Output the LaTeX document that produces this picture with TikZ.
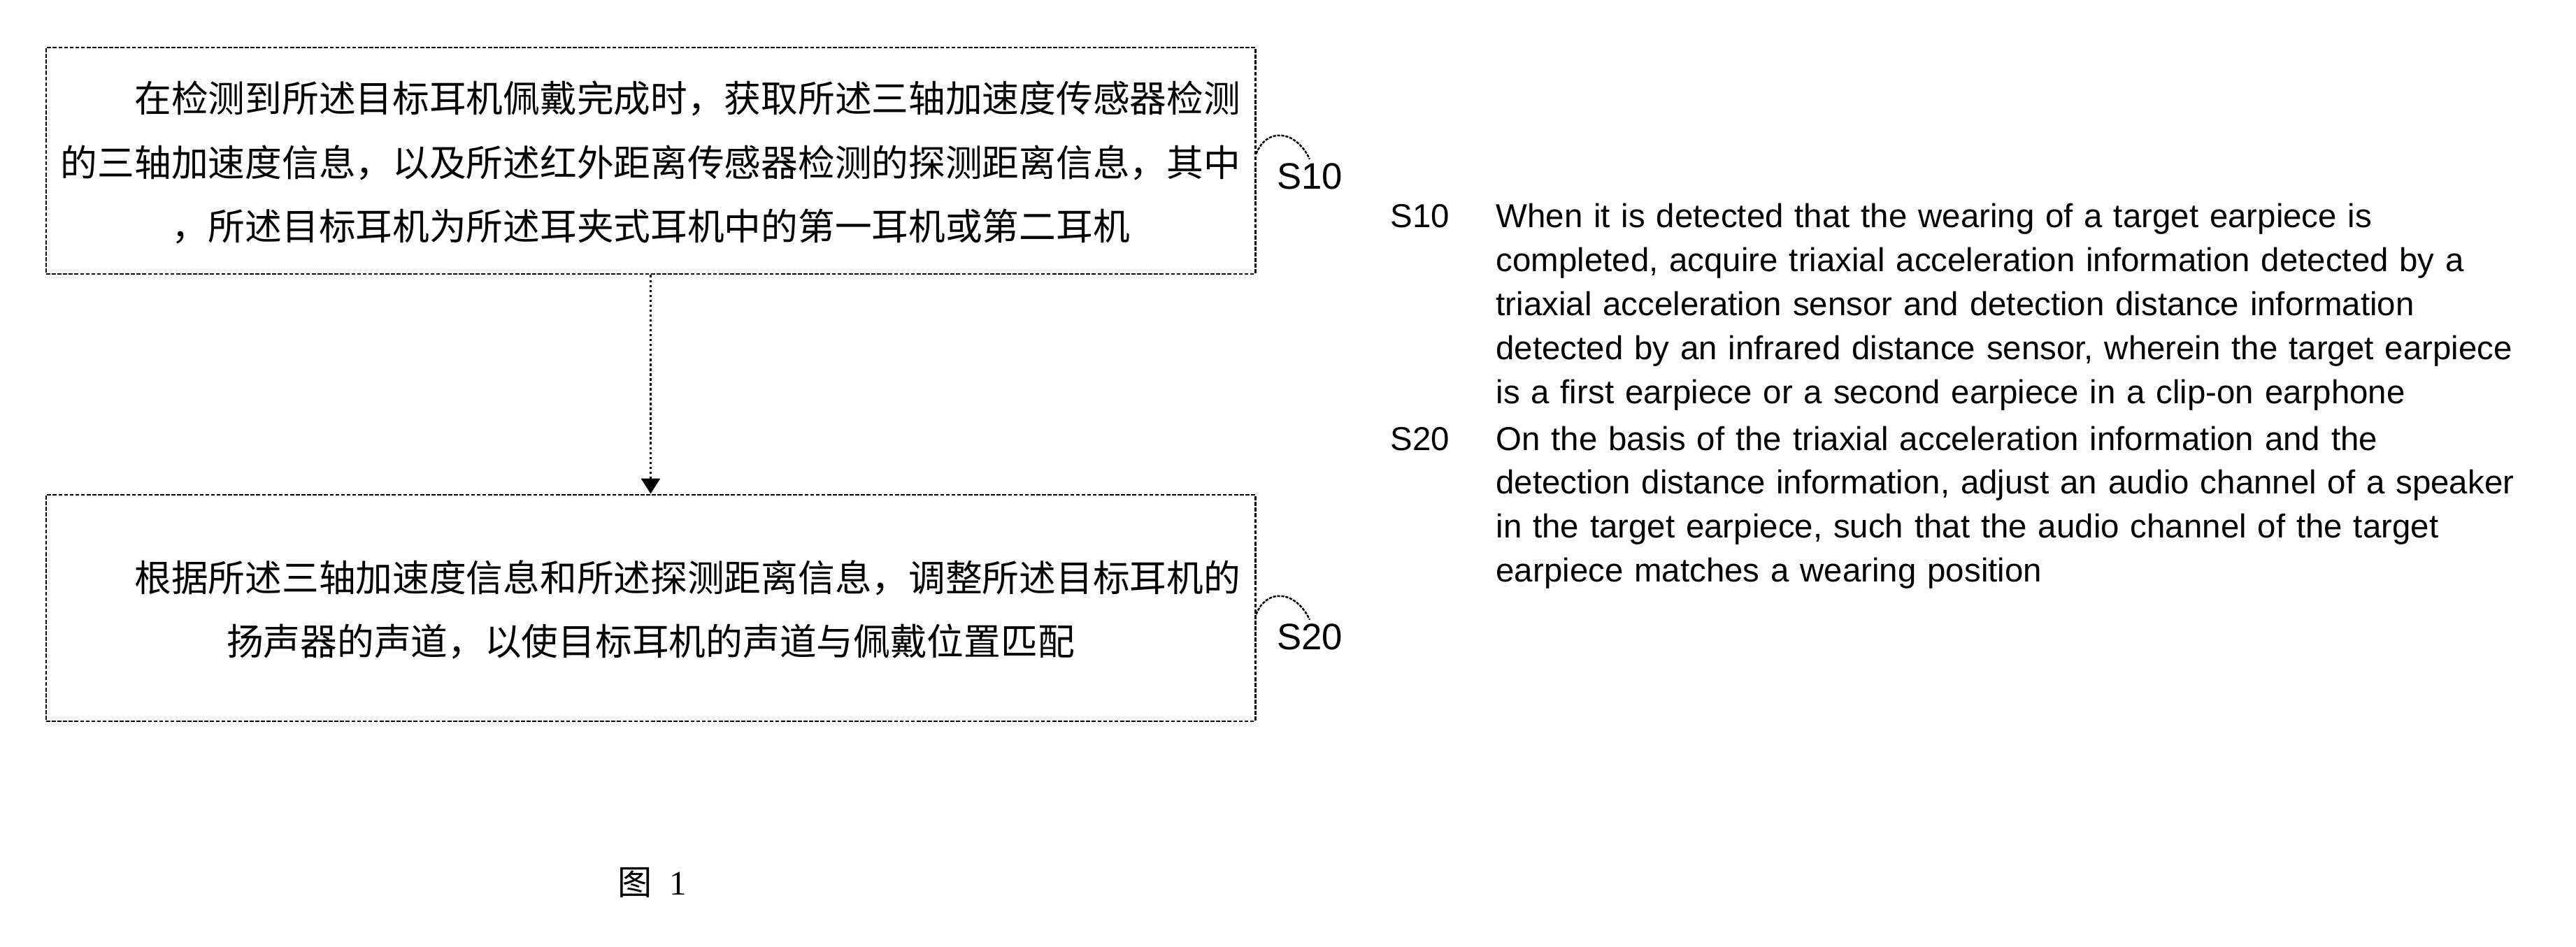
\documentclass[tikz,border=0pt]{standalone}
\usepackage{fontspec}
\setmainfont{Liberation Sans}
\newfontfamily\cjk{Noto Sans CJK SC}
\newfontfamily\capfont{Liberation Serif}
\usepackage{tikz}
\usetikzlibrary{positioning}
\usetikzlibrary{arrows.meta}
\tikzset{
	node distance=3.13cm, % gap between the two step boxes
	stepbox/.style={
			draw,
			line width=0.85pt,
			dash pattern=on 1.6pt off 0.7pt,
			minimum width=17.29cm,
			minimum height=3.24cm,
			inner sep=0.05cm,
			text width=17.1cm,
			align=center,
			font=\cjk\fontsize{15pt}{26pt}\selectfont
		},
	steplbl/.style={ % S10 / S20 next to the boxes
			inner sep=0.5mm,
			font=\fontsize{15pt}{18pt}\selectfont
		},
	leadline/.style={
			line width=0.7pt,
			dash pattern=on 1.2pt off 0.5pt
		},
	flow/.style={ % dotted arrow between the steps
			line width=1pt,
			dash pattern=on 1pt off 1pt,
			-{Triangle[length=0.22cm,width=0.27cm]}
		},
	tagtxt/.style={
			inner sep=0pt,
			font=\fontsize{13.5pt}{17.9pt}\selectfont
		},
	desc/.style={
			inner sep=0pt,
			text width=15cm,
			align=left,
			font=\fontsize{13.5pt}{17.9pt}\selectfont
		},
	captxt/.style={
			inner sep=0pt,
			font=\capfont\fontsize{14pt}{16pt}\selectfont
		}
}
\begin{document}
\begin{tikzpicture}
\useasboundingbox (0,0) rectangle (36.84,-13.54);

% flow chart
\node[stepbox] (s10box) at (9.305,-2.30) {\rule{0pt}{0.5cm}\hspace*{2em}在检测到所述目标耳机佩戴完成时，获取所述三轴加速度传感器检测\\的三轴加速度信息，以及所述红外距离传感器检测的探测距离信息，其中\\，所述目标耳机为所述耳夹式耳机中的第一耳机或第二耳机};
\node[stepbox, below=of s10box] (s20box) {\rule{0pt}{0.5cm}\hspace*{2em}根据所述三轴加速度信息和所述探测距离信息，调整所述目标耳机的\\扬声器的声道，以使目标耳机的声道与佩戴位置匹配};
\draw[flow] (s10box) -- (s20box);

\node[steplbl] (s10lbl) at (18.73,-2.52) {S10};
\node[steplbl] (s20lbl) at (18.73,-9.11) {S20};
\draw[leadline] ([yshift=1mm]s10box.east) .. controls +(0.15,0.38) and +(-0.2,0.42) .. (s10lbl.north);
\draw[leadline] ([yshift=-0.9mm]s20box.east) .. controls +(0.15,0.38) and +(-0.2,0.42) .. (s20lbl.north);

% translation on the right
\node[tagtxt, anchor=base west] (t10) at (19.88,-3.26) {S10};
\node[desc, base right=0.65cm of t10] (d10) {When it is detected that the wearing of a target earpiece is\\completed, acquire triaxial acceleration information detected by a\\triaxial acceleration sensor and detection distance information\\detected by an infrared distance sensor, wherein the target earpiece\\is a first earpiece or a second earpiece in a clip-on earphone};
\node[tagtxt, anchor=base west] (t20) at (19.88,-6.44) {S20};
\node[desc, base right=0.65cm of t20] (d20) {On the basis of the triaxial acceleration information and the\\detection distance information, adjust an audio channel of a speaker\\in the target earpiece, such that the audio channel of the target\\earpiece matches a wearing position};

\node[captxt] (fig) at (9.33,-12.63) {{\cjk 图}\hspace{0.25cm}1};
\end{tikzpicture}
\end{document}
